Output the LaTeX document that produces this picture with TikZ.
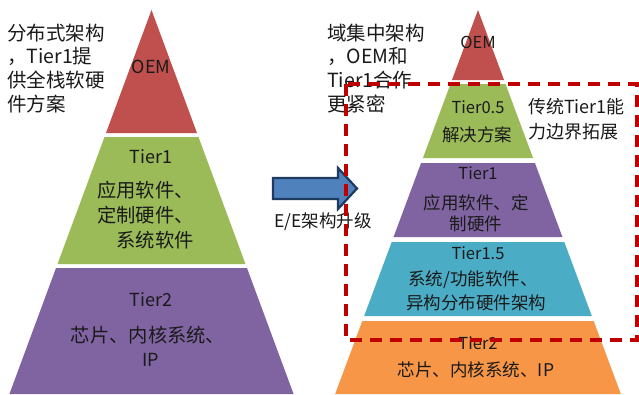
\documentclass[tikz,border=0pt]{standalone}
\usepackage{fontspec}
\setmainfont{Noto Sans CJK SC}
\definecolor{cOEM}{HTML}{C0504D}
\definecolor{cGreen}{HTML}{9BBB59}
\definecolor{cPurple}{HTML}{8064A2}
\definecolor{cBlue}{HTML}{4BACC6}
\definecolor{cOrange}{HTML}{F79646}
\definecolor{cArrow}{HTML}{4F81BD}
\definecolor{cArrowLine}{HTML}{1F3A60}
\definecolor{cDash}{HTML}{C00000}
\definecolor{cText}{HTML}{1A1A1A}
\newcommand\mylayer[5]{\fill[#5] ({#1-#2*(#3-10)},#3) -- ({#1+#2*(#3-10)},#3) -- ({#1+#2*(#4-10)},#4) -- ({#1-#2*(#4-10)},#4) -- cycle;}
\begin{document}
\begin{tikzpicture}[x=1pt,y=-1pt,
  txt/.style={text=cText,inner sep=0pt,font=\fontsize{18}{21}\selectfont},
  big/.style={text=cText,inner sep=0pt,font=\fontsize{19.3}{23}\selectfont},
  mid/.style={text=cText,inner sep=0pt,font=\fontsize{17.5}{21}\selectfont},
  lab/.style={text=cText,inner sep=0pt,font=\fontsize{16.5}{19}\selectfont},
  side/.style={text=cText,inner sep=0pt,anchor=west,font=\fontsize{19.5}{23}\selectfont},
]
\useasboundingbox (0,0) rectangle (639,394);
\fill[white] (0,0) rectangle (639,394);
% left pyramid
\fill[cOEM] (151.5,10) -- ({151.5-0.37*123},133) -- ({151.5+0.37*123},133) -- cycle;
\mylayer{151.5}{0.37}{137}{264}{cGreen}
\mylayer{151.5}{0.37}{268}{394}{cPurple}
% right pyramid
\fill[cOEM] (478,10) -- ({478-0.372*70},80) -- ({478+0.372*70},80) -- cycle;
\mylayer{478}{0.372}{84}{158}{cGreen}
\mylayer{478}{0.372}{163}{237}{cPurple}
\mylayer{478}{0.372}{242}{316}{cBlue}
\mylayer{478}{0.372}{321}{394}{cOrange}
% left texts
\node[side] (l1) at (7,33) {分布式架构};
\node[side] (l2) at (7,56) {，Tier1提};
\node[side] (l3) at (7,80) {供全栈软硬};
\node[side] (l4) at (7,104) {件方案};
\node[txt] (loem) at (151,67) {OEM};
\node[txt] (lt1) at (151,157) {Tier1};
\node[big,anchor=west] (lt1a) at (97,190) {应用软件、};
\node[big,anchor=west] (lt1b) at (97,215) {定制硬件、};
\node[big,anchor=east] (lt1c) at (194,240) {系统软件};
\node[txt] (lt2) at (151,300) {Tier2};
\node[big] (lt2a) at (148,335) {芯片、内核系统、};
\node[txt] (lt2b) at (151,360) {IP};
% arrow
\draw[cArrowLine,line width=2.2,fill=cArrow,line join=miter]
  (273,178) -- (338,178) -- (338,168) -- (357,188.5) -- (338,209) -- (338,199) -- (273,199) -- cycle;
\node[lab,anchor=west,font=\fontsize{17.5}{20}\selectfont] (ee) at (274,222) {E/E架构升级};
% right texts
\node[side] (r1) at (327,33) {域集中架构};
\node[side] (r2) at (327,56) {，OEM和};
\node[side] (r3) at (327,80) {Tier1合作};
\node[side] (r4) at (327,104) {更紧密};
\node[lab] (roem) at (478,42) {OEM};
\node[lab] (rt05) at (478,107) {Tier0.5};
\node[mid] (rt05a) at (477,135) {解决方案};
\node[lab] (rt1) at (478,173) {Tier1};
\node[mid] (rt1a) at (476,203) {应用软件、定};
\node[mid] (rt1b) at (476,224) {制硬件};
\node[lab] (rt15) at (478,253) {Tier1.5};
\node[mid] (rt15a) at (473,280) {系统/功能软件、};
\node[mid] (rt15b) at (476,303) {异构分布硬件架构};
\node[lab] (rt2) at (478,343) {Tier2};
\node[mid] (rt2a) at (476,370) {芯片、内核系统、IP};
\node[side,font=\fontsize{18}{21}\selectfont] (s1) at (528,107) {传统Tier1能};
\node[side,font=\fontsize{18}{21}\selectfont] (s2) at (528,132) {力边界拓展};
% dashed frame
\draw[cDash,line width=3.5,dash pattern=on 12 off 8] (346,84) rectangle (637,340);
\end{tikzpicture}
\end{document}
